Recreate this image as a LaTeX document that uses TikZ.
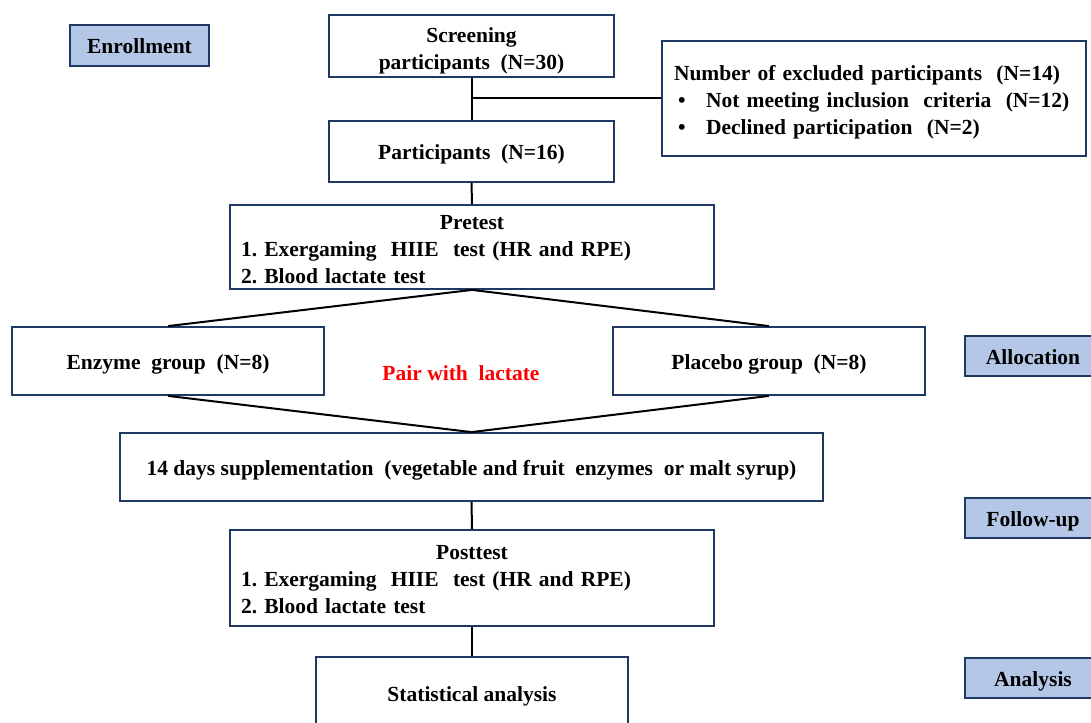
\documentclass[tikz,border=0pt]{standalone}
\usepackage{fontspec}
\setmainfont{Liberation Serif}
\frenchspacing
\definecolor{boxline}{HTML}{1F3864}
\definecolor{stagefill}{HTML}{B4C7E7}
\definecolor{pairred}{HTML}{FF0000}
\begin{document}
\begin{tikzpicture}[x=1pt,y=-1pt,
  every node/.style={font=\fontsize{21.5}{27}\selectfont\bfseries},
  one/.style={text height=21pt,text depth=4pt},
  box/.style={draw=boxline,line width=1.8pt,fill=white,inner sep=0pt,anchor=center},
  txt/.style={inner sep=0pt,anchor=center},
  stage/.style={draw=boxline,line width=1.8pt,fill=stagefill,inner sep=0pt,minimum width=136pt,minimum height=40pt,one},
  conn/.style={draw=black,line width=2pt}]
\useasboundingbox (0,0) rectangle (1091,722);
\clip (0,0) rectangle (1091,722);
% stage labels
\node[stage,minimum width=139pt,minimum height=41pt] (enroll) at (139.5,45.5) {Enrollment};
\node[stage] (alloc) at (1033,356) {Allocation};
\node[stage] (follow) at (1033,518) {Follow-up};
\node[stage] (anal) at (1033,678) {Analysis};
% flow boxes
\node[box,minimum width=285pt,minimum height=62pt] (screen) at (471.5,46) {};
\node[txt,align=center] (screentxt) at (471.5,50.5) {Screening\\participants~ (N=30)};
\node[box,minimum width=424pt,minimum height=115pt] (excl) at (874,98.5) {};
\node[txt,text width=400pt,align=left] (excltxt) at (874,102.5)
  {Number of excluded participants~ (N=14)\\
   \makebox[32pt][l]{\hspace{4pt}•}Not meeting inclusion~ criteria~ (N=12)\\
   \makebox[32pt][l]{\hspace{4pt}•}Declined participation~ (N=2)};
\node[box,minimum width=285pt,minimum height=61pt,one] (part) at (471.5,151.5) {Participants~ (N=16)};
\node[box,minimum width=484pt,minimum height=84pt] (pre) at (472,247) {};
\node[txt,text width=462pt,align=left] (pretxt) at (472,250)
  {{\centering Pretest\par}1. Exergaming~ HIIE~ test (HR and RPE)\\2. Blood lactate test};
\node[box,minimum width=312pt,minimum height=68pt,one] (enz) at (168,361) {Enzyme~ group~ (N=8)};
\node[box,minimum width=312pt,minimum height=68pt,one] (plac) at (769,361) {Placebo group~ (N=8)};
\node[txt,text=pairred] (pair) at (461,373) {Pair with~ lactate};
\node[box,minimum width=703pt,minimum height=68pt,one] (supp) at (471.5,467)
  {14 days supplementation~~(vegetable and fruit~ enzymes~ or malt syrup)};
\node[box,minimum width=484pt,minimum height=96pt] (post) at (472,578) {};
\node[txt,text width=462pt,align=left] (posttxt) at (472,580)
  {{\centering Posttest\par}1. Exergaming~ HIIE~ test (HR and RPE)\\2. Blood lactate test};
\node[box,minimum width=312pt,minimum height=72pt,one] (stat) at (472,693) {Statistical analysis};
% connectors
\coordinate (j) at (screen.south |- excl.west);
\draw[conn] (screen.south) -- (part.north);
\draw[conn] (j) -- (excl.west);
\draw[conn] (part.south) -- (pre.north);
\draw[conn] (pre.south) -- (enz.north);
\draw[conn] (pre.south) -- (plac.north);
\draw[conn] (enz.south) -- (supp.north);
\draw[conn] (plac.south) -- (supp.north);
\draw[conn] (supp.south) -- (post.north);
\draw[conn] (post.south) -- (stat.north);
\end{tikzpicture}
\end{document}
